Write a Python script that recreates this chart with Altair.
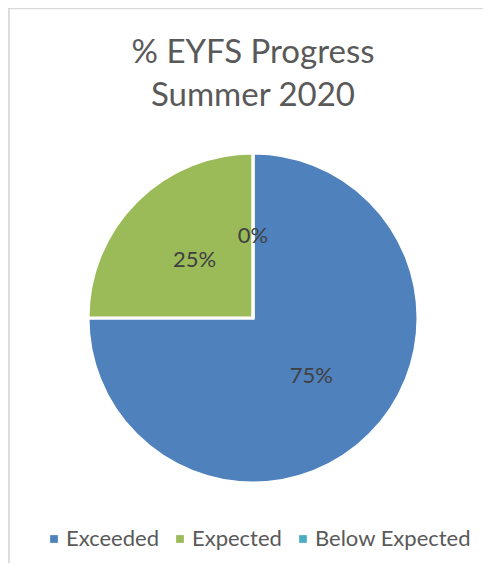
import altair as alt
import pandas as pd

categories = ["Exceeded", "Expected", "Below Expected"]
values = [75, 25, 0]
labels = ["75%", "25%", "0%"]
colors = ["#4F81BD", "#9BBB59", "#4BACC6"]
title_lines = ["% EYFS Progress", "Summer 2020"]

df = pd.DataFrame({"category": categories, "value": values, "label": labels,
                   "order": [0, 1, 2]})

W, H = 475, 555
CX, CY, R = 245, 310, 165
FONT = "Lato"

base = alt.Chart(df).encode(
    theta=alt.Theta("value:Q", stack=True),
    order=alt.Order("order:Q"),
)

pie = base.mark_arc(radius=R, stroke="white", strokeWidth=3).encode(
    x=alt.value(CX), y=alt.value(CY),
    color=alt.Color(
        "category:N",
        scale=alt.Scale(domain=categories, range=colors),
        sort=categories,
        legend=alt.Legend(
            title=None, orient="none", direction="horizontal",
            legendX=35, legendY=520, padding=0, symbolType="square", symbolSize=60,
            symbolStrokeWidth=0, labelFont=FONT, labelFontSize=22,
            labelColor="#595959", labelOffset=1, columnPadding=10,
        ),
    ),
)

text = base.mark_text(radius=R / 2, font=FONT, fontSize=22, color="#404040",
                      align="center", baseline="middle").encode(
    x=alt.value(CX), y=alt.value(CY),
    text="label:N",
)

title = alt.Chart(df.head(1)).mark_text(
    font=FONT, fontSize=33, color="#595959", align="center",
    baseline="alphabetic", lineHeight=43,
).encode(x=alt.value(CX), y=alt.value(55), text=alt.value(title_lines))

border_left = alt.Chart(df.head(1)).mark_rule(color="#D9D9D9", strokeWidth=1.5).encode(
    x=alt.value(1), y=alt.value(0), y2=alt.value(H)
)
border_top = alt.Chart(df.head(1)).mark_rule(color="#D9D9D9", strokeWidth=1.5).encode(
    y=alt.value(0.5), x=alt.value(0), x2=alt.value(W)
)

chart = alt.layer(border_left, border_top, pie, text, title).properties(
    width=W, height=H,
    autosize=alt.AutoSizeParams(type="none"),
    padding=0,
).configure_view(stroke="transparent").configure(background="white")

chart.save("out.html", embed_options={"renderer": "svg", "actions": False})
